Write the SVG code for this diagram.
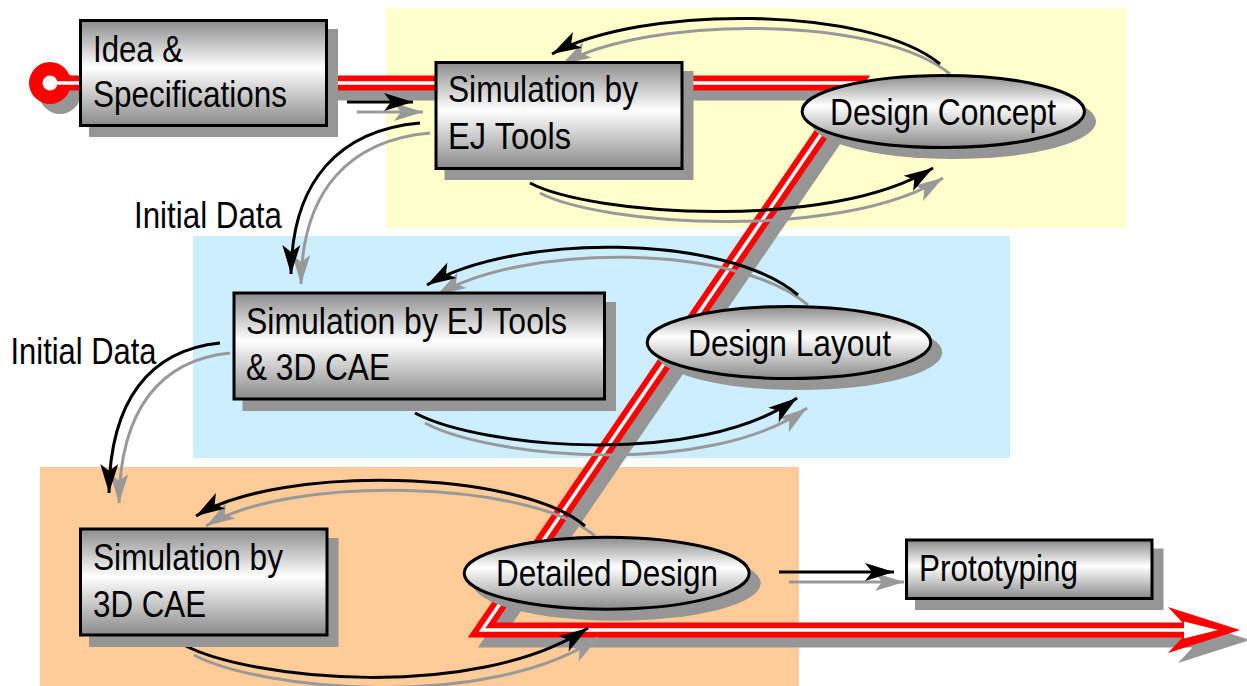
<svg xmlns="http://www.w3.org/2000/svg" width="1247" height="686" viewBox="0 0 1247 686">
  <style>
    .panel { stroke: none; }
    .shadow { fill: #969696; stroke: none; }
    .box { fill: url(#gBox); stroke: #000; stroke-width: 3; }
    .oval { fill: url(#gOval); stroke: #000; stroke-width: 3; }
    .lbl { font-family: "Liberation Sans Narrow", "Liberation Sans", Arial, sans-serif; font-size: 37px; fill: #000; }
    .blk { fill: none; stroke: #000; stroke-width: 3; marker-end: url(#headBlack); }
    .gry { fill: none; stroke: #999; stroke-width: 3; marker-end: url(#headGray); }
    .flow { fill: none; stroke-linejoin: miter; stroke-miterlimit: 8; }
  </style>
  <defs>
    <linearGradient id="gBox" x1="0" y1="0" x2="0" y2="1">
      <stop offset="0" stop-color="#8c8c8c"/>
      <stop offset="0.45" stop-color="#ffffff"/>
      <stop offset="1" stop-color="#8a8a8a"/>
    </linearGradient>
    <linearGradient id="gOval" x1="0" y1="0" x2="0" y2="1">
      <stop offset="0" stop-color="#8a8a8a"/>
      <stop offset="0.42" stop-color="#ffffff"/>
      <stop offset="1" stop-color="#8a8a8a"/>
    </linearGradient>
    <marker id="headBlack" markerUnits="userSpaceOnUse" viewBox="0 0 32 20" markerWidth="32" markerHeight="20" refX="30" refY="10" orient="auto">
      <path d="M30,10 L1,1 L8,10 L1,19 Z" fill="#000"/>
    </marker>
    <marker id="headGray" markerUnits="userSpaceOnUse" viewBox="0 0 32 20" markerWidth="32" markerHeight="20" refX="30" refY="10" orient="auto">
      <path d="M30,10 L1,1 L8,10 L1,19 Z" fill="#999"/>
    </marker>
  </defs>

  <!-- stage bands -->
  <g id="bands">
    <rect class="panel" x="386" y="8" width="740" height="220" fill="#ffffcc"/>
    <rect class="panel" x="193" y="236" width="817" height="222" fill="#cceeff"/>
    <rect class="panel" x="40" y="467" width="759" height="219" fill="#ffcc99"/>
  </g>

  <!-- main design flow (red double line with shadow) -->
  <g id="flow">
    <g transform="translate(10,10)" fill="#969696">
      <circle cx="50" cy="83" r="21"/>
      <path class="flow" d="M50,83 H856 L482,630 H1182" stroke="#969696" stroke-width="15"/>
      <polygon points="1168,607 1240,630 1168,653 1182,638 1182,622"/>
    </g>
    <circle cx="50" cy="83" r="21" fill="#ff0000"/>
    <path class="flow" d="M50,83 H856 L482,630 H1182" stroke="#ff0000" stroke-width="15"/>
    <polygon points="1168,607 1240,630 1168,653 1182,638 1182,622" fill="#ff0000"/>
    <circle cx="50" cy="83" r="7.5" fill="#ffffff"/>
    <path class="flow" d="M50,83 H856 L482,630 H1186" stroke="#ffffff" stroke-width="3.5"/>
    <polygon points="1184,621.5 1218,630 1184,638.5" fill="#ffffff"/>
  </g>

  <!-- connectors: gray offset copy under black -->
  <g id="connectors">
    <g transform="translate(10,10)">
      <path class="gry" d="M347,102 L413,102"/>
      <path class="gry" d="M420,123 C340,130 292,180 291,274"/>
      <path class="gry" d="M220,343 C150,350 110,400 109,493"/>
      <path class="gry" d="M940,64 C868,5 640,5 552,54"/>
      <path class="gry" d="M530,183 C590,215 830,232 933,168"/>
      <path class="gry" d="M798,295 C725,233 515,233 427,285"/>
      <path class="gry" d="M415,413 C480,448 700,468 797,398"/>
      <path class="gry" d="M585,526 C520,470 280,464 196,516"/>
      <path class="gry" d="M184,645 C250,680 475,702 588,628"/>
      <path class="gry" d="M779,572 L894,572"/>
    </g>
    <path class="blk" d="M347,102 L413,102"/>
    <path class="blk" d="M420,123 C340,130 292,180 291,274"/>
    <path class="blk" d="M220,343 C150,350 110,400 109,493"/>
    <path class="blk" d="M940,64 C868,5 640,5 552,54"/>
    <path class="blk" d="M530,183 C590,215 830,232 933,168"/>
    <path class="blk" d="M798,295 C725,233 515,233 427,285"/>
    <path class="blk" d="M415,413 C480,448 700,468 797,398"/>
    <path class="blk" d="M585,526 C520,470 280,464 196,516"/>
    <path class="blk" d="M184,645 C250,680 475,702 588,628"/>
    <path class="blk" d="M779,572 L894,572"/>
  </g>

  <!-- edge labels -->
  <g id="labels">
    <text class="lbl" x="134" y="228" textLength="148" lengthAdjust="spacingAndGlyphs">Initial Data</text>
    <text class="lbl" x="10.5" y="363.5" textLength="146" lengthAdjust="spacingAndGlyphs">Initial Data</text>
  </g>

  <!-- nodes -->
  <g id="idea">
    <rect class="shadow" x="89" y="29" width="249" height="108"/>
    <rect class="box" x="80.5" y="20.5" width="246" height="105"/>
    <text class="lbl" x="93" y="62" textLength="90" lengthAdjust="spacingAndGlyphs">Idea &amp;</text>
    <text class="lbl" x="93" y="107" textLength="194" lengthAdjust="spacingAndGlyphs">Specifications</text>
  </g>
  <g id="sim-ej">
    <rect class="shadow" x="444.5" y="71" width="249" height="109"/>
    <rect class="box" x="436" y="62.5" width="246" height="106"/>
    <text class="lbl" x="448" y="102" textLength="190" lengthAdjust="spacingAndGlyphs">Simulation by</text>
    <text class="lbl" x="448" y="148.5" textLength="123" lengthAdjust="spacingAndGlyphs">EJ Tools</text>
  </g>
  <g id="sim-ej-cae">
    <rect class="shadow" x="242.5" y="302" width="373.5" height="109"/>
    <rect class="box" x="234" y="293" width="370.5" height="106"/>
    <text class="lbl" x="246" y="333.5" textLength="321" lengthAdjust="spacingAndGlyphs">Simulation by EJ Tools</text>
    <text class="lbl" x="246" y="380" textLength="144" lengthAdjust="spacingAndGlyphs">&amp; 3D CAE</text>
  </g>
  <g id="sim-cae">
    <rect class="shadow" x="89" y="538" width="249.5" height="109"/>
    <rect class="box" x="80.5" y="529" width="246.5" height="106"/>
    <text class="lbl" x="93" y="570" textLength="190" lengthAdjust="spacingAndGlyphs">Simulation by</text>
    <text class="lbl" x="93" y="616.5" textLength="113" lengthAdjust="spacingAndGlyphs">3D CAE</text>
  </g>
  <g id="prototyping">
    <rect class="shadow" x="915" y="548.5" width="248.5" height="61.5"/>
    <rect class="box" x="906.5" y="540" width="245.5" height="58.5"/>
    <text class="lbl" x="919" y="581" textLength="159" lengthAdjust="spacingAndGlyphs">Prototyping</text>
  </g>
  <g id="design-concept">
    <ellipse class="shadow" cx="953.3" cy="121.5" rx="142.7" ry="37.5"/>
    <ellipse class="oval" cx="943.3" cy="111.5" rx="141.2" ry="36"/>
    <text class="lbl" x="830" y="125" textLength="226" lengthAdjust="spacingAndGlyphs">Design Concept</text>
  </g>
  <g id="design-layout">
    <ellipse class="shadow" cx="799" cy="352.5" rx="143.3" ry="37.5"/>
    <ellipse class="oval" cx="789" cy="342.5" rx="141.8" ry="36"/>
    <text class="lbl" x="688" y="356" textLength="203" lengthAdjust="spacingAndGlyphs">Design Layout</text>
  </g>
  <g id="detailed-design">
    <ellipse class="shadow" cx="616.7" cy="583.2" rx="144" ry="37.5"/>
    <ellipse class="oval" cx="606.7" cy="573.2" rx="142.5" ry="36"/>
    <text class="lbl" x="496" y="586" textLength="222" lengthAdjust="spacingAndGlyphs">Detailed Design</text>
  </g>
</svg>
